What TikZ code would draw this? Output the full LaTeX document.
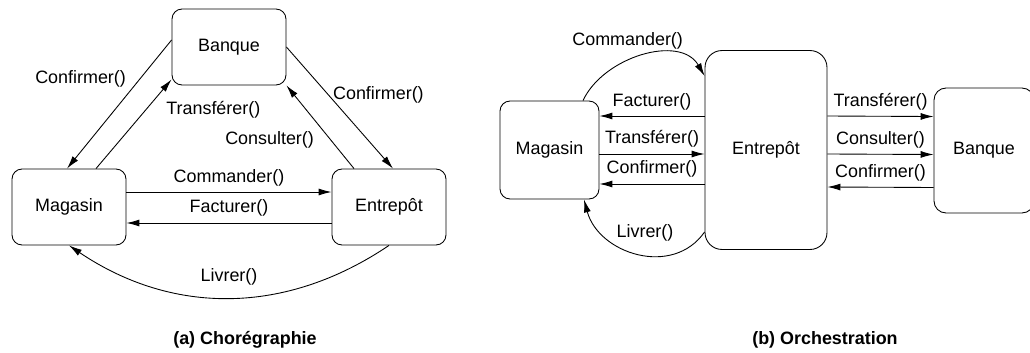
\documentclass[tikz,border=0pt]{standalone}
\usepackage{fontspec}
\setmainfont{Liberation Sans}
\usetikzlibrary{arrows.meta}

\begin{document}
\begin{tikzpicture}
[x=0.02cm,y=0.02cm,
font=\fontsize{10.2}{12}\selectfont,
box/.style={draw,line width=0.5pt,rounded corners=2mm,minimum width=2.28cm,minimum height=1.52cm},
msg/.style={line width=0.5pt,-{Latex[length=2.6mm,width=1.4mm]}},
legende/.style={font=\fontsize{10.2}{12}\selectfont\bfseries}]
\useasboundingbox (0,0) rectangle (1030,-352);
% (a) choregraphie
\node[box] (bqa) at (229,-47) {Banque};
\node[box] (maga) at (69,-207) {Magasin};
\node[box] (enta) at (389,-207) {Entrepôt};
\draw[msg] ([yshift=1.4mm]bqa.west) -- ([xshift=-0.4mm]maga.north)
  node[pos=0.3,left=1.6mm] {Confirmer()};
\draw[msg] ([xshift=5.4mm]maga.north) -- ([yshift=1.2mm]bqa.south west)
  node[pos=0.656,right=2.9mm] {Transférer()};
\draw[msg] (bqa.east) -- ([xshift=0.8mm]enta.north)
  node[pos=0.393,right=-0.3mm] {Confirmer()};
\draw[msg] ([xshift=-7mm]enta.north) -- (bqa.south east)
  node[pos=0.345,left=2.1mm] {Consulter()};
\draw[msg] ([yshift=3mm]maga.east) -- ([yshift=3mm]enta.west)
  node[midway,above] {Commander()};
\draw[msg] ([yshift=-3.2mm]enta.west) -- ([yshift=-3.2mm]maga.east)
  node[midway,above] {Facturer()};
\draw[msg] (enta.south) to[bend left=34] node[above=1.3mm] {Livrer()} (maga.south);
\node[legende] (capa) at (245,-340) {(a) Chorégraphie};
% (b) orchestration
\node[box,minimum width=1.98cm,minimum height=1.96cm] (magb) at (549.5,-150) {Magasin};
\node[box,rounded corners=3.4mm,minimum width=2.44cm,minimum height=3.98cm] (entb) at (766,-150) {Entrepôt};
\node[box,rounded corners=2.4mm,minimum width=2cm,minimum height=2.5cm] (bqb) at (984,-150.5) {Banque};
\draw[msg] ([yshift=6.8mm]entb.west) -- ([yshift=6.8mm]magb.east)
  node[midway,above] {Facturer()};
\draw[msg] ([yshift=-0.8mm]magb.east) -- ([yshift=-0.8mm]entb.west)
  node[midway,above] {Transférer()};
\draw[msg] ([yshift=-6.8mm]entb.west) -- ([yshift=-6.8mm]magb.east)
  node[midway,above] {Confirmer()};
\draw[msg] ([yshift=6.8mm]entb.east) -- ([yshift=6.8mm]bqb.west)
  node[midway,above] {Transférer()};
\draw[msg] ([yshift=-0.8mm]entb.east) -- ([yshift=-0.8mm]bqb.west)
  node[midway,above] {Consulter()};
\draw[msg] ([yshift=-7.4mm]bqb.west) -- ([yshift=-7.4mm]entb.east)
  node[midway,above] {Confirmer()};
\draw[msg] ([xshift=6.7mm]magb.north) to[out=65,in=120]
  node[pos=0.4,above=1mm] {Commander()} ([yshift=14.8mm]entb.west);
\draw[msg] ([yshift=-16.4mm]entb.west) to[out=235,in=-75,looseness=1.15]
  node[pos=0.45,above=1.5mm] {Livrer()} ([xshift=6.9mm]magb.south);
\node[legende] (capb) at (825,-340) {(b) Orchestration};
\end{tikzpicture}
\end{document}
